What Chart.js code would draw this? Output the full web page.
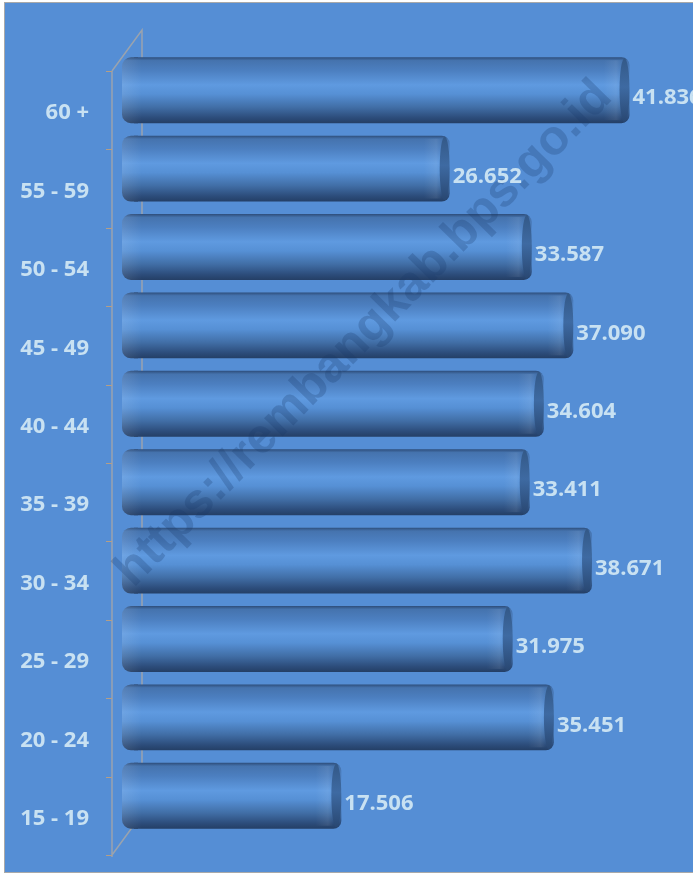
<!DOCTYPE html>
<html>
<head>
<meta charset="utf-8">
<script src="https://cdn.jsdelivr.net/npm/chart.js@4.4.1/dist/chart.umd.min.js"></script>
<style>
html, body { margin: 0; padding: 0; background: #fff; }
#wrap { width: 693px; height: 875px; }
</style>
</head>
<body>
<div id="wrap"><canvas id="chart" width="693" height="875"></canvas></div>
<script>
// age groups, bottom to top as in the picture
const ageGroups = ['15 - 19', '20 - 24', '25 - 29', '30 - 34', '35 - 39',
                   '40 - 44', '45 - 49', '50 - 54', '55 - 59', '60 +'];
const workers = [17506, 35451, 31975, 38671, 33411, 34604, 37090, 33587, 26652, 41836];
const axisMax = 45000;

const BG = '#558ED5';
const TEXT = '#C8E1F2';
const FONT = '"Open Sans", "Liberation Sans", sans-serif';

function fmt(v) {
    return v.toString().replace(/\B(?=(\d{3})+(?!\d))/g, '.');
}

function barHalf(chart) {
    const y = chart.scales.y;
    return Math.abs(y.getPixelForTick(1) - y.getPixelForTick(0)) * 0.84 / 2;
}

function cylGradient(c, yc, half) {
    const g = c.createLinearGradient(0, yc - half, 0, yc + half);
    g.addColorStop(0, '#2E4E7B');
    g.addColorStop(0.05, '#4573AE');
    g.addColorStop(0.2, '#4C7FC0');
    g.addColorStop(0.42, '#5F9AE0');
    g.addColorStop(0.56, '#5690D5');
    g.addColorStop(0.76, '#416EA6');
    g.addColorStop(0.92, '#2C4C7A');
    g.addColorStop(1, '#243F66');
    return g;
}

function barFill(ctx) {
    const chart = ctx.chart;
    if (!chart.chartArea) return '#4F80BF';
    const yc = chart.scales.y.getPixelForValue(ctx.dataIndex);
    return cylGradient(chart.ctx, yc, barHalf(chart));
}

// background panel and the 3D axis frame
const framePlugin = {
    id: 'frame',
    beforeDraw(chart) {
        const c = chart.ctx;
        c.save();
        c.fillStyle = '#fff';
        c.fillRect(0, 0, chart.width, chart.height);
        c.fillStyle = BG;
        c.fillRect(4, 2, chart.width, chart.height - 4);
        c.strokeStyle = '#A9A9A9';
        c.lineWidth = 1;
        c.strokeRect(4.5, 2.5, chart.width + 10, chart.height - 5);
        c.restore();
    },
    beforeDatasetsDraw(chart) {
        const c = chart.ctx;
        const a = chart.chartArea;
        const fx = a.left - 22, bx = a.left + 8;
        const step = (a.bottom - a.top) / ageGroups.length;
        c.save();
        c.strokeStyle = '#9AA3AE';
        c.lineWidth = 1.5;
        c.beginPath();
        c.moveTo(fx, a.top + 20);
        c.lineTo(fx, a.bottom + 22);
        c.moveTo(fx, a.top + 20);
        c.lineTo(bx, a.top - 21);
        c.lineTo(bx, a.bottom - 21);
        c.moveTo(fx, a.bottom + 20);
        c.lineTo(bx, a.bottom - 21);
        c.stroke();
        c.strokeStyle = '#B49E86';
        c.lineWidth = 1;
        c.beginPath();
        for (let i = 0; i <= ageGroups.length; i++) {
            const ty = Math.round(a.top + 20 + i * step) + 0.5;
            c.moveTo(fx - 6, ty);
            c.lineTo(fx, ty);
        }
        c.stroke();
        c.restore();
    }
};

// cylinder ends, watermark and value labels
const decoPlugin = {
    id: 'deco',
    afterDatasetsDraw(chart) {
        const c = chart.ctx;
        const meta = chart.getDatasetMeta(0);
        const half = barHalf(chart);
        c.save();
        meta.data.forEach(el => {
            // left rounded end
            c.fillStyle = cylGradient(c, el.y, half);
            c.beginPath();
            c.roundRect(el.base - 12, el.y - half, 16, half * 2, [9, 0, 0, 9]);
            c.fill();
            const lg = c.createLinearGradient(el.base - 12, 0, el.base + 8, 0);
            lg.addColorStop(0, 'rgba(255,255,255,0.10)');
            lg.addColorStop(1, 'rgba(255,255,255,0)');
            c.fillStyle = lg;
            c.beginPath();
            c.roundRect(el.base - 12, el.y - half, 20, half * 2, [9, 0, 0, 9]);
            c.fill();
            // light band before the right cap
            const rg = c.createLinearGradient(el.x - 26, 0, el.x - 8, 0);
            rg.addColorStop(0, 'rgba(255,255,255,0)');
            rg.addColorStop(0.7, 'rgba(255,255,255,0.08)');
            rg.addColorStop(1, 'rgba(255,255,255,0)');
            c.fillStyle = rg;
            c.fillRect(el.x - 26, el.y - half + 3, 18, half * 2 - 6);
            // right cap
            const cg = c.createLinearGradient(0, el.y - half, 0, el.y + half);
            cg.addColorStop(0, '#335886');
            cg.addColorStop(0.45, '#3E6AA2');
            cg.addColorStop(1, '#284670');
            c.fillStyle = cg;
            c.beginPath();
            c.ellipse(el.x - 5, el.y, 5, half - 1, 0, 0, Math.PI * 2);
            c.fill();
        });

        // watermark
        c.save();
        c.translate(364, 334);
        c.rotate(-Math.atan2(495, 485));
        c.font = 'bold 49px "Liberation Sans", sans-serif';
        c.fillStyle = 'rgba(25, 55, 105, 0.25)';
        c.textAlign = 'center';
        c.textBaseline = 'middle';
        c.fillText('https://rembangkab.bps.go.id', 0, 0);
        c.restore();

        c.font = 'bold 22px ' + FONT;
        c.fillStyle = TEXT;
        c.textAlign = 'left';
        c.textBaseline = 'middle';
        meta.data.forEach((el, i) => {
            c.fillText(fmt(workers[i]), el.x + 3, el.y + 8);
        });
        c.restore();
    }
};

new Chart(document.getElementById('chart'), {
    type: 'bar',
    data: {
        labels: ageGroups,
        datasets: [{
            data: workers,
            backgroundColor: barFill,
            borderRadius: 8,
            borderSkipped: 'start',
            categoryPercentage: 1,
            barPercentage: 0.84
        }]
    },
    options: {
        indexAxis: 'y',
        responsive: false,
        animation: false,
        layout: { padding: { left: 0, right: 26, top: 51, bottom: 40 } },
        plugins: {
            legend: { display: false },
            tooltip: { enabled: false }
        },
        scales: {
            x: {
                display: false,
                min: 0,
                max: axisMax
            },
            y: {
                reverse: true,
                grid: { display: false, drawTicks: false },
                border: { display: false },
                afterFit(scale) {
                    scale.width = 134;
                    scale.paddingTop = 0;
                    scale.paddingBottom = 0;
                },
                ticks: {
                    padding: 45,
                    labelOffset: 23,
                    color: TEXT,
                    font: { family: FONT, size: 22, weight: 'bold' }
                }
            }
        }
    },
    plugins: [framePlugin, decoPlugin]
});
</script>
</body>
</html>
